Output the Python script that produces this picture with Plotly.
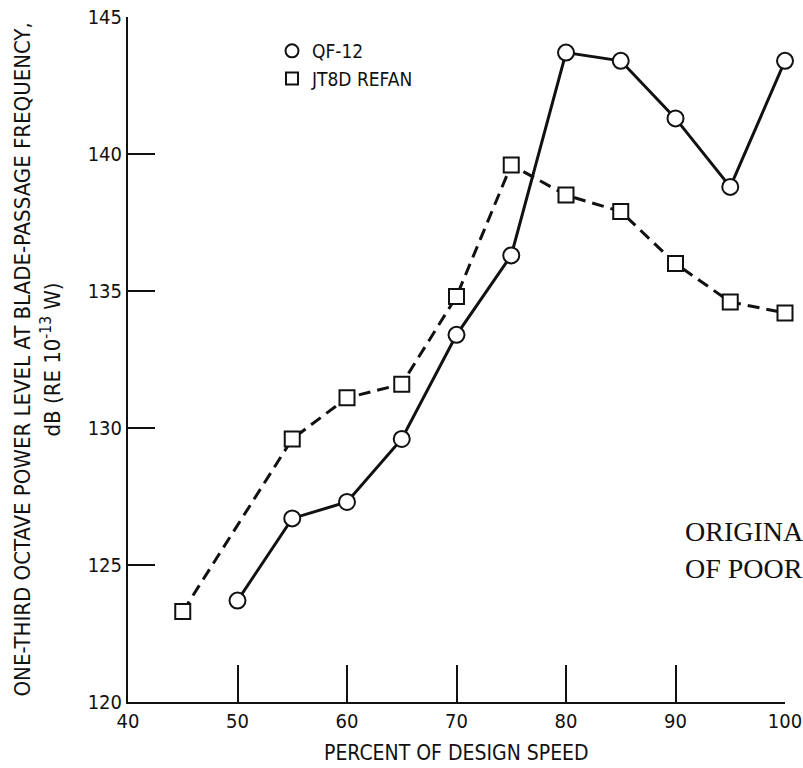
import plotly.graph_objects as go

# Percent of design speed
speed_qf12 = [50, 55, 60, 65, 70, 75, 80, 85, 90, 95, 100]
speed_jt8d = [45, 55, 60, 65, 70, 75, 80, 85, 90, 95, 100]

# One-third octave power level at blade-passage frequency, dB
level_qf12 = [123.7, 126.7, 127.3, 129.6, 133.4, 136.3, 143.7, 143.4, 141.3, 138.8, 143.4]
level_jt8d = [123.3, 129.6, 131.1, 131.6, 134.8, 139.6, 138.5, 137.9, 136.0, 134.6, 134.2]

series_names = ["QF-12", "JT8D REFAN"]

x_ticks = [40, 50, 60, 70, 80, 90, 100]
y_ticks = [120, 125, 130, 135, 140, 145]

NARROW = "Liberation Sans Narrow, DejaVu Sans Condensed, Arial Narrow, sans-serif"
SERIF = "Liberation Serif, DejaVu Serif, Times New Roman, serif"
INK = "#111111"

fig = go.Figure()

fig.add_trace(go.Scatter(
    x=speed_jt8d, y=level_jt8d, mode="lines+markers", showlegend=False,
    line=dict(color=INK, width=3, dash="12px,7px"),
    marker=dict(symbol="square", size=15, color="white", line=dict(color=INK, width=2)),
    cliponaxis=False,
))
fig.add_trace(go.Scatter(
    x=speed_qf12, y=level_qf12, mode="lines+markers", showlegend=False,
    line=dict(color=INK, width=3),
    marker=dict(symbol="circle", size=16, color="white", line=dict(color=INK, width=2)),
    cliponaxis=False,
))

# Legend entries (marker symbols only)
fig.add_trace(go.Scatter(
    x=[None], y=[None], mode="markers", name=series_names[0],
    marker=dict(symbol="circle", size=13, color="white", line=dict(color=INK, width=2)),
))
fig.add_trace(go.Scatter(
    x=[None], y=[None], mode="markers", name=series_names[1],
    marker=dict(symbol="square", size=12, color="white", line=dict(color=INK, width=2)),
))

fig.update_layout(
    width=803, height=768,
    margin=dict(l=128, r=18, t=17, b=66, autoexpand=False),
    paper_bgcolor="white", plot_bgcolor="white",
    font=dict(family=NARROW, color=INK, size=21),
    legend=dict(
        x=(272 - 128) / 657, y=1 - (32 - 17) / 684.5, xanchor="left", yanchor="top",
        bgcolor="rgba(0,0,0,0)", borderwidth=0,
        font=dict(family=NARROW, size=19, color=INK),
        tracegroupgap=0, itemsizing="trace",
    ),
    xaxis=dict(
        range=[40, 100], tickvals=x_ticks, ticktext=[str(v) for v in x_ticks],
        showgrid=False, zeroline=False, automargin=False,
        showline=True, linecolor=INK, linewidth=2,
        ticks="inside", ticklen=37, tickwidth=2, tickcolor=INK,
        ticklabeloverflow="allow",
        tickfont=dict(family=NARROW, size=20, color=INK),
    ),
    yaxis=dict(
        range=[120, 145], tickvals=y_ticks, ticktext=[str(v) for v in y_ticks],
        showgrid=False, zeroline=False, automargin=False,
        showline=True, linecolor=INK, linewidth=2,
        ticks="inside", ticklen=27, tickwidth=2, tickcolor=INK,
        ticklabeloverflow="allow",
        tickfont=dict(family=NARROW, size=20, color=INK),
    ),
    annotations=[
        dict(text="PERCENT OF DESIGN SPEED",
             xref="paper", yref="paper", x=0.5, y=-(753 - 702) / 685,
             xanchor="center", yanchor="middle", showarrow=False,
             font=dict(family=NARROW, size=21, color=INK)),
        dict(text="ONE-THIRD OCTAVE POWER LEVEL AT BLADE-PASSAGE FREQUENCY,",
             xref="paper", yref="paper", x=(22 - 128) / 657, y=0.5,
             xanchor="center", yanchor="middle", textangle=-90, showarrow=False,
             font=dict(family=NARROW, size=22, color=INK)),
        dict(text="dB (RE 10<sup>-13</sup> W)",
             xref="paper", yref="paper", x=(50 - 128) / 657, y=0.5,
             xanchor="center", yanchor="middle", textangle=-90, showarrow=False,
             font=dict(family=NARROW, size=22, color=INK)),
        dict(text="ORIGINAL PAGE IS", xref="paper", yref="paper",
             x=(683 - 128) / 657, y=(701.7 - 531) / 684.2,
             xanchor="left", yanchor="middle", showarrow=False,
             font=dict(family=SERIF, size=28, color=INK)),
        dict(text="OF POOR QUALITY", xref="paper", yref="paper",
             x=(683 - 128) / 657, y=(701.7 - 568) / 684.2,
             xanchor="left", yanchor="middle", showarrow=False,
             font=dict(family=SERIF, size=28, color=INK)),
    ],
)

fig.write_html("out.html")
